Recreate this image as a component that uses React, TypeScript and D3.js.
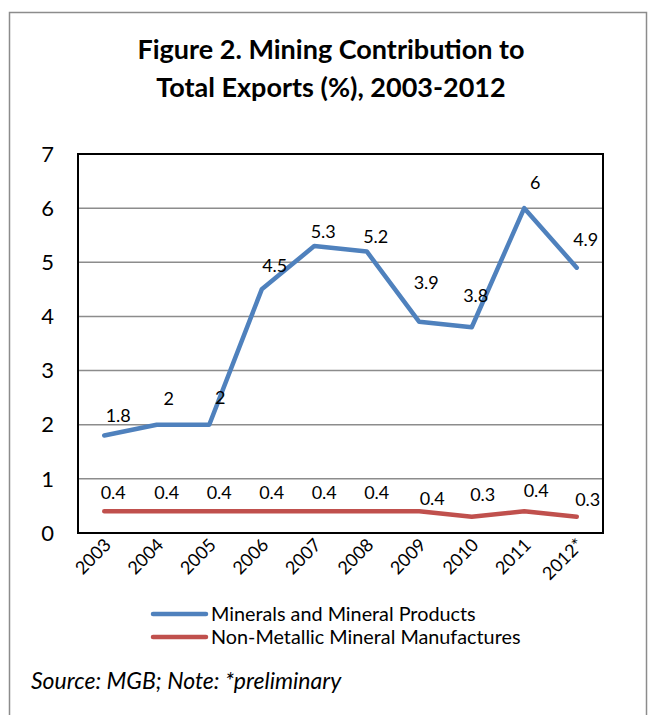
import React from "react";
import * as d3 from "d3";

const years = ["2003", "2004", "2005", "2006", "2007", "2008", "2009", "2010", "2011", "2012*"];
const minerals = [1.8, 2, 2, 4.5, 5.3, 5.2, 3.9, 3.8, 6, 4.9];
const nonMetallic = [0.4, 0.4, 0.4, 0.4, 0.4, 0.4, 0.4, 0.3, 0.4, 0.3];
const yTicks = [0, 1, 2, 3, 4, 5, 6, 7];
const seriesNames = ["Minerals and Mineral Products", "Non-Metallic Mineral Manufactures"];
const colors = ["#4F81BD", "#C0504D"];

// label nudges (px) relative to each point, as placed in the original chart
const labelDx = [
  [14, 12, 11, 13, 9, 9, 7, 4, 11, 9],
  [9, 10, 10, 10, 10, 10, 13, 11, 12, 11],
];
const labelDy = [
  [-20, -26, -27, -24, -14, -15, -39, -32, -25, -28],
  [-19, -19, -19, -19, -19, -19, -13, -22, -21, -17],
];

const W = 656, H = 715;
const FONT = "Lato, 'Open Sans', sans-serif";
const left = 78, right = 603, top = 154, bottom = 533;

export default function App() {
  const x = d3.scaleBand<string>().domain(years).range([left, right]);
  const y = d3.scaleLinear().domain([0, 7]).range([bottom, top]);
  const cx = (d: string) => (x(d) as number) + x.bandwidth() / 2;
  const line = d3.line<number>().x((_, i) => cx(years[i])).y((v) => y(v));
  const series = [minerals, nonMetallic];

  return (
    <svg width={W} height={H} style={{ display: "block", position: "absolute", left: 0, top: 0 }} fontFamily={FONT}>
      <rect x={0} y={0} width={W} height={H} fill="#fff" />
      <rect x={9.5} y={12.5} width={637} height={720} fill="none" stroke="#8c8c8c" strokeWidth={1.5} />
      <text x={331} y={59} textAnchor="middle" fontSize={27} fontWeight="bold" fill="#000">
        Figure 2. Mining Contribution to
      </text>
      <text x={331} y={97} textAnchor="middle" fontSize={27} fontWeight="bold" fill="#000">
        Total Exports (%), 2003-2012
      </text>
      {yTicks.filter((t) => t > 0 && t < 7).map((t) => (
        <line key={"g" + t} x1={left} x2={right} y1={y(t)} y2={y(t)} stroke="#8c8c8c" strokeWidth={1.5} />
      ))}
      <rect x={left} y={top} width={right - left} height={bottom - top} fill="none" stroke="#000" strokeWidth={2} />
      {yTicks.map((t) => (
        <text key={"y" + t} x={54} y={y(t)} dy="0.35em" textAnchor="end" fontSize={22} fill="#000">
          {t}
        </text>
      ))}
      {years.map((yr) => (
        <text key={"x" + yr} transform={`translate(${cx(yr) + 8},${546}) rotate(-45)`} textAnchor="end" fontSize={18} fill="#000">
          {yr}
        </text>
      ))}
      {series.map((s, si) => (
        <path key={"l" + si} d={line(s) as string} fill="none" stroke={colors[si]} strokeWidth={4.5} strokeLinejoin="round" strokeLinecap="round" />
      ))}
      {series.map((s, si) =>
        s.map((v, i) => (
          <text key={"d" + si + i} x={cx(years[i]) + labelDx[si][i]} y={y(v) + labelDy[si][i]} dy="0.35em" textAnchor="middle" fontSize={18} fill="#000">
            {v}
          </text>
        ))
      )}
      {seriesNames.map((n, i) => (
        <g key={"lg" + i}>
          <line x1={153} x2={206} y1={614 + i * 23} y2={614 + i * 23} stroke={colors[i]} strokeWidth={4.5} strokeLinecap="round" />
          <text x={211} y={614 + i * 23} dy="0.35em" fontSize={19.8} fill="#000">
            {n}
          </text>
        </g>
      ))}
      <text x={31} y={681} dy="0.35em" fontSize={23} fontStyle="italic" fill="#000">
        Source: MGB; Note: *preliminary
      </text>
    </svg>
  );
}
